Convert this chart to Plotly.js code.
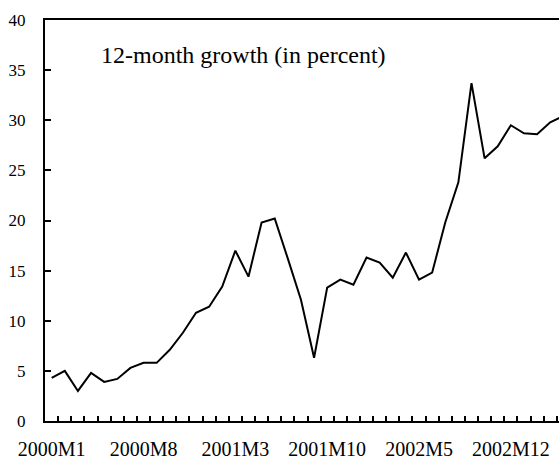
<!DOCTYPE html>
<html>
<head>
<meta charset="utf-8">
<script src="https://cdn.plot.ly/plotly-3.0.1.min.js"></script>
<style>
  html, body { margin: 0; padding: 0; overflow: hidden; background: #fff; }
  #chart { width: 600px; height: 461px; }
</style>
</head>
<body>
<div id="chart"></div>
<script>
// Monthly periods, 2000M1 .. 2003M4
const months = [
  "2000M1","2000M2","2000M3","2000M4","2000M5","2000M6","2000M7","2000M8","2000M9","2000M10","2000M11","2000M12",
  "2001M1","2001M2","2001M3","2001M4","2001M5","2001M6","2001M7","2001M8","2001M9","2001M10","2001M11","2001M12",
  "2002M1","2002M2","2002M3","2002M4","2002M5","2002M6","2002M7","2002M8","2002M9","2002M10","2002M11","2002M12",
  "2003M1","2003M2","2003M3","2003M4"
];
// 12-month growth, percent
const growth = [
  4.3, 5.0, 3.0, 4.8, 3.9, 4.2, 5.3, 5.8, 5.8, 7.1, 8.8, 10.8,
  11.4, 13.4, 17.0, 14.4, 19.8, 20.2, 16.2, 12.1, 6.3, 13.3, 14.1, 13.6,
  16.3, 15.8, 14.3, 16.8, 14.1, 14.8, 19.8, 23.8, 33.7, 26.2, 27.4, 29.5,
  28.7, 28.6, 29.8, 30.4
];
const labelledMonths = ["2000M1","2000M8","2001M3","2001M10","2002M5","2002M12"];
const yTicks = [0, 5, 10, 15, 20, 25, 30, 35, 40];
const chartTitle = "12-month growth (in percent)";

const xIdx = months.map((m, i) => i);
const tickIdx = labelledMonths.map(m => months.indexOf(m));

const FAMILY = "Liberation Serif";

const gd = document.getElementById("chart");

const trace = {
  x: xIdx,
  y: growth,
  type: "scatter",
  mode: "lines",
  line: { color: "#000", width: 2 },
  hoverinfo: "y"
};

const layout = {
  width: 600,
  height: 461,
  margin: { l: 45, r: 17, t: 20, b: 40 },
  paper_bgcolor: "#fff",
  plot_bgcolor: "#fff",
  showlegend: false,
  font: { family: FAMILY, color: "#000" },
  xaxis: {
    range: [-0.51, 40.5],
    tickmode: "array",
    tickvals: tickIdx,
    ticktext: labelledMonths,
    ticks: "inside",
    ticklen: 0,
    ticklabelstandoff: 9,
    tickfont: { family: FAMILY, size: 20, color: "#000" },
    minor: { tickmode: "linear", tick0: 0.5, dtick: 1, ticks: "inside", ticklen: 5, tickwidth: 1.5, tickcolor: "#000", showgrid: false },
    showline: true,
    linecolor: "#000",
    linewidth: 2,
    mirror: true,
    showgrid: false,
    zeroline: false
  },
  yaxis: {
    range: [0, 40],
    tickmode: "array",
    tickvals: yTicks,
    ticktext: yTicks.map(String),
    ticks: "inside",
    ticklen: 6,
    tickwidth: 2,
    tickcolor: "#000",
    ticklabelstandoff: 14,
    tickfont: { family: FAMILY, size: 17, color: "#000" },
    showline: true,
    linecolor: "#000",
    linewidth: 2,
    mirror: true,
    showgrid: false,
    zeroline: false
  },
  annotations: [{
    text: chartTitle,
    xref: "paper", yref: "paper",
    x: (99 - 45) / 538, y: (421 - 55) / 401,
    xanchor: "left", yanchor: "middle",
    showarrow: false,
    font: { family: FAMILY, size: 24, color: "#000" }
  }]
};

Plotly.newPlot(gd, [trace], layout, { displayModeBar: false });
</script>
</body>
</html>
